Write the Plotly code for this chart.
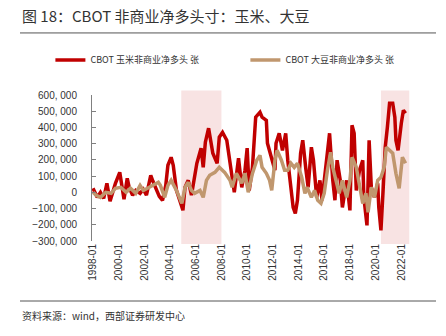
import plotly.graph_objects as go

corn_dates = ["1998-01","1998-03","1998-05","1998-08","1998-11","1999-02","1999-05","1999-08","1999-10",
"2000-02","2000-04","2000-06","2000-09","2000-11","2001-02","2001-05","2001-09","2001-12","2002-03",
"2002-07","2002-09","2002-12","2003-03","2003-06","2003-09","2003-11","2004-02","2004-04","2004-07",
"2004-10","2005-01","2005-03","2005-06","2005-09","2005-12","2006-02","2006-06","2006-08","2006-10",
"2007-01","2007-05","2007-09","2007-11","2008-02","2008-06","2008-09","2009-01","2009-05","2009-08",
"2009-11","2010-01","2010-03","2010-06","2010-09","2011-01","2011-03","2011-07","2011-08","2011-12",
"2012-03","2012-04","2012-07","2012-10","2013-01","2013-03","2013-06","2013-08","2013-10","2013-12",
"2014-03","2014-05","2014-08","2014-10","2015-01","2015-03","2015-06","2015-09","2015-11","2016-03",
"2016-06","2016-09","2016-11","2017-01","2017-04","2017-06","2017-10","2018-01","2018-03","2018-05",
"2018-07","2018-10","2019-01","2019-02","2019-05","2019-07","2019-09","2019-12","2020-03","2020-04",
"2020-06","2020-08","2020-10","2020-12","2021-02","2021-05","2021-07","2021-08","2021-10","2022-01",
"2022-03","2022-05"]
corn_values = [25000,0,-31000,0,-37000,56000,-55000,12000,56000,
123000,49000,-43000,86000,25000,-18000,12000,-6000,18000,-18000,
105000,68000,18000,-25000,-49000,43000,167000,216000,167000,12000,
-49000,-111000,31000,74000,-18000,93000,179000,272000,154000,309000,
395000,241000,179000,340000,370000,321000,179000,0,210000,31000,
136000,272000,12000,154000,463000,494000,463000,444000,302000,198000,
136000,302000,364000,259000,364000,198000,12000,-93000,-130000,-49000,
241000,321000,136000,31000,278000,198000,-31000,74000,-49000,179000,
364000,74000,-49000,198000,74000,-93000,74000,-111000,414000,364000,
12000,136000,198000,-31000,-204000,321000,31000,-31000,56000,-93000,
-235000,12000,278000,401000,549000,549000,463000,321000,259000,426000,
506000,488000]

soy_dates = ["1998-01","1998-04","1998-08","1999-01","1999-06","1999-10","2000-03","2000-08","2000-12",
"2001-05","2001-09","2001-12","2002-04","2002-09","2003-02","2003-04","2003-08","2003-11","2004-02",
"2004-07","2004-12","2005-03","2005-06","2005-09","2005-12","2006-05","2006-08","2006-11","2007-02",
"2007-07","2007-11","2008-04","2008-09","2008-11","2009-03","2009-08","2009-11","2010-02","2010-06",
"2010-10","2011-01","2011-03","2011-07","2011-10","2011-12","2012-03","2012-05","2012-09","2012-12",
"2013-03","2013-06","2013-09","2013-12","2014-04","2014-07","2014-09","2015-01","2015-04","2015-07",
"2015-10","2016-01","2016-04","2016-07","2016-09","2016-12","2017-03","2017-06","2017-10","2018-01",
"2018-03","2018-07","2018-10","2019-01","2019-04","2019-06","2019-09","2019-12","2020-03","2020-06",
"2020-09","2020-11","2021-02","2021-05","2021-08","2021-11","2022-02","2022-05"]
soy_values = [0,-18000,-31000,0,-6000,25000,31000,0,25000,
-6000,43000,12000,25000,43000,62000,43000,-31000,43000,74000,
12000,-68000,31000,62000,12000,-6000,12000,-31000,74000,105000,
123000,154000,123000,74000,31000,117000,56000,117000,0,117000,
198000,228000,154000,117000,74000,12000,198000,259000,198000,136000,
136000,179000,154000,179000,93000,-6000,31000,-31000,12000,-49000,
-68000,-6000,136000,247000,154000,74000,-6000,74000,-31000,74000,
216000,154000,31000,-68000,-6000,-123000,31000,-31000,74000,93000,
154000,278000,259000,241000,117000,25000,216000,179000]

shade_starts = ["2004-11-15", "2020-06-01"]
shade_ends = ["2008-01-01", "2022-08-15"]

y_ticks = [600000, 500000, 400000, 300000, 200000, 100000, 0, -100000, -200000, -300000]
y_tick_text = [("−" if v < 0 else "") + f"{abs(v):,}".replace(",", ", ") for v in y_ticks]
x_ticks = [f"{y}-01" for y in range(1998, 2023, 2)]

RED = "#C00000"
TAN = "#C0976E"

fig = go.Figure()
fig.add_trace(go.Scatter(x=corn_dates, y=corn_values, mode="lines",
                         name="CBOT 玉米非商业净多头 张",
                         line=dict(color=RED, width=3.5)))
fig.add_trace(go.Scatter(x=soy_dates, y=soy_values, mode="lines",
                         name="CBOT 大豆非商业净多头 张",
                         line=dict(color=TAN, width=3.5)))

for s, e in zip(shade_starts, shade_ends):
    fig.add_shape(type="rect", xref="x", yref="paper", x0=s, x1=e, y0=-0.02, y1=1.03,
                  fillcolor="#F8E3E3", line=dict(width=0), layer="below")

# separators
fig.add_shape(type="line", xref="paper", yref="paper", x0=-0.225, x1=1.075, y0=1.425, y1=1.425,
              line=dict(color="#555555", width=1))
fig.add_shape(type="line", xref="paper", yref="paper", x0=-0.225, x1=1.075, y0=-0.411, y1=-0.411,
              line=dict(color="#555555", width=1))

fig.add_annotation(text="资料来源：wind，西部证券研发中心", xref="paper", yref="paper",
                   x=-0.225, y=-0.507, xanchor="left", yanchor="middle", showarrow=False,
                   align="left",
                   font=dict(size=10, color="#333333", family="Noto Sans CJK SC"))

fig.update_layout(
    width=446, height=336,
    margin=dict(l=92, r=34, t=95, b=95),
    paper_bgcolor="white", plot_bgcolor="white",
    title=dict(text="图 18：CBOT 非商业净多头寸：玉米、大豆", xref="container", yref="container",
               x=22/446, y=1 - 17/336, xanchor="left", yanchor="middle",
               font=dict(size=15, color="#333333", family="Noto Sans CJK SC")),
    showlegend=True,
    legend=dict(orientation="h", x=-0.13, y=1.24, xanchor="left", yanchor="middle",
                font=dict(size=9, color="#333333", family="Noto Sans CJK SC"),
                bgcolor="rgba(0,0,0,0)", entrywidth=150, entrywidthmode="pixels",
                itemwidth=30),
    xaxis=dict(type="date", range=["1997-12-04", "2022-11-01"],
               tickvals=x_ticks, ticktext=x_ticks, tickangle=-90,
               showgrid=False, showline=False, zeroline=False, ticks="",
               tickfont=dict(size=10, color="#333333", family="Liberation Sans")),
    xaxis2=dict(type="date", matches="x", overlaying="x", anchor="free", position=1/3,
                tickvals=x_ticks, showticklabels=False, ticks="inside", ticklen=3,
                tickcolor="#808080", showline=True, linecolor="#808080", linewidth=1,
                showgrid=False, zeroline=False),
    yaxis=dict(range=[-300000, 600000], tickvals=y_ticks, ticktext=y_tick_text,
               showgrid=False, zeroline=False, showline=True, linecolor="#808080",
               ticks="inside", ticklen=4, tickcolor="#808080", ticklabelstandoff=12,
               tickfont=dict(size=10, color="#333333", family="Liberation Sans")),
)

fig.write_html("out.html")
